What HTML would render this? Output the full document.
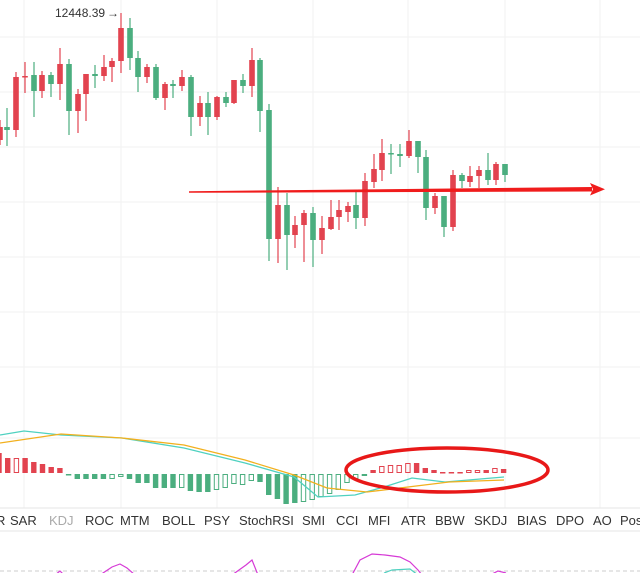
<!DOCTYPE html>
<html><head><meta charset="utf-8"><style>
html,body{margin:0;padding:0;background:#fff;width:640px;height:573px;overflow:hidden;font-family:"Liberation Sans",sans-serif}
</style></head><body>
<svg id="s" width="640" height="573" xmlns="http://www.w3.org/2000/svg" style="position:absolute;left:0;top:0">
<g stroke="#f2f2f2" stroke-width="1">
<line x1="0" y1="37" x2="640" y2="37"/><line x1="0" y1="92" x2="640" y2="92"/><line x1="0" y1="147" x2="640" y2="147"/><line x1="0" y1="202" x2="640" y2="202"/><line x1="0" y1="257" x2="640" y2="257"/><line x1="0" y1="312" x2="640" y2="312"/><line x1="0" y1="367" x2="640" y2="367"/><line x1="0" y1="438" x2="640" y2="438"/>
<line x1="24" y1="0" x2="24" y2="508"/><line x1="121" y1="0" x2="121" y2="508"/><line x1="217" y1="0" x2="217" y2="508"/><line x1="313" y1="0" x2="313" y2="508"/><line x1="408" y1="0" x2="408" y2="508"/><line x1="505" y1="0" x2="505" y2="508"/><line x1="600" y1="0" x2="600" y2="508"/>
</g>
<line x1="0" y1="508" x2="640" y2="508" stroke="#e6e6e6"/>
<line x1="0" y1="531" x2="640" y2="531" stroke="#e6e6e6"/>
<g id="candles"></g>
<g id="hist"></g>
<polyline fill="none" stroke="#4fd1c0" stroke-width="1.3" points="0,435 24,431 61,435 122,438 184,448 245,463 294,477 318,497 355,495 384,487 412,478 445,482 504,477"/>
<polyline fill="none" stroke="#f2b01e" stroke-width="1.3" points="0,443 61,434 122,438 184,445 245,460 294,475 327,488 367,492 408,487 449,482 504,480"/>
<text x="55" y="17" font-size="12" fill="#333">12448.39</text>
<text x="107" y="17" font-size="12" fill="#333">→</text>
<polygon points="189,191.2 592,187 592,191.5 189,192.8" fill="#f01c1c"/>
<polygon points="590,183 605,189.3 590,195.5 593,189.3" fill="#f01c1c"/>
<ellipse cx="447" cy="470" rx="101" ry="22" fill="none" stroke="#e81818" stroke-width="3.5"/>
<g font-size="13" fill="#333">
<text x="-4" y="525">R</text><text x="10" y="525">SAR</text><text x="49" y="525" fill="#aaa">KDJ</text><text x="85" y="525">ROC</text><text x="120" y="525">MTM</text><text x="162" y="525">BOLL</text><text x="204" y="525">PSY</text><text x="239" y="525">StochRSI</text><text x="302" y="525">SMI</text><text x="336" y="525">CCI</text><text x="368" y="525">MFI</text><text x="401" y="525">ATR</text><text x="435" y="525">BBW</text><text x="474" y="525">SKDJ</text><text x="517" y="525">BIAS</text><text x="556" y="525">DPO</text><text x="593" y="525">AO</text><text x="620" y="525">Pos</text>
</g>
<line x1="0" y1="571" x2="640" y2="571" stroke="#ccc" stroke-dasharray="4,3"/>
<g fill="none" stroke="#d63ad6" stroke-width="1.2">
<polyline points="100,575 112,567 120,564 127,568 135,575"/>
<polyline points="232,575 246,565 252,560 258,575"/>
<polyline points="352,575 360,560 372,554 385,555 400,557 410,562 418,570 422,575"/>
<polyline points="490,575 498,571 506,573"/>
<polyline points="55,575 60,571 64,575"/>
</g>
<polyline fill="none" stroke="#4fd1c0" stroke-width="1.2" points="384,573 392,570 410,569 418,575"/>
</svg>
<script>
var R="#e2434f",G="#4bae7f",NS="http://www.w3.org/2000/svg";
function el(p,t,a){var e=document.createElementNS(NS,t);for(var k in a)e.setAttribute(k,a[k]);p.appendChild(e);return e;}
var C=[[0,127,140,120,145,R],[7,127,130,108,146,G],[16,77,130,72,137,R],[25,76,77.5,62,93,R],[34,75,91,62,117,G],[42,75,91,71,98,R],[51,75,84,72,97,G],[60,64,84,48,100,R],[69,64,111,59,135,G],[78,94,111,89,133,R],[86,74,94,74,121,R],[95,74,76,65,88,G],[104,67,76,55,81,R],[112,61,67,58,82,R],[121,28,61,13,73,R],[130,28,58,18,70,G],[138,58,77,51,92,G],[147,67,77,64,83,R],[156,67,98,64,100,G],[165,84,98,82,110,R],[173,84,86,80,98,G],[182,77,86,70,91,R],[191,77,117,75,136,G],[200,103,117,96,126,R],[208,103,117,92,135,G],[217,97,117,96,120,R],[226,97,103,92,107,G],[234,80,103,80,104,R],[243,80,86,74,93,G],[252,60,86,48,97,R],[260,60,111,58,132,G],[269,110,239,104,261,G],[278,205,239,187,263,R],[287,205,235,193,270,G],[295,225,235,216,248,R],[304,213,225,210,262,R],[313,213,240,207,267,G],[322,228,240,216,254,R],[331,217,229,200,230,R],[339,210,217,200,230,R],[348,206,212,202,222,R],[356,205,218,192,229,G],[365,181,218,173,226,R],[374,169,182,154,188,R],[382,153,170,139,181,R],[391,153,154.5,144,174,G],[400,154,156,144,167,G],[409,141,156,130,158,R],[418,141,157,141,173,G],[426,157,208,150,220,G],[435,196,208,193,214,R],[444,196,227,196,237,G],[453,175,227,170,231,R],[462,175,181,173,188,G],[470,176,182,166,187,R],[479,170,176,166,188,R],[488,170,180,153,185,G],[496,164,180,162,185,R],[505,164,175,164,182,G]];
var g=document.getElementById("candles");
C.forEach(function(c){el(g,"line",{x1:c[0],x2:c[0],y1:c[3],y2:c[4],stroke:c[5],"stroke-width":1.2});el(g,"rect",{x:c[0]-2.8,y:c[1],width:5.6,height:Math.max(1.5,c[2]-c[1]),fill:c[5]});});
// histogram [top,bottom,color,hollow]
var H=[[453,473,R,0],[458,473,R,0],[458,473,R,1],[458,473,R,0],[462,473,R,0],[464,473,R,0],[467,473,R,0],[468,473,R,0],
[474,475.5,G,0],[474,479,G,0],[474,479,G,0],[474,479,G,0],[474,479,G,0],[474,479,G,1],[474,477,G,1],[474,479,G,0],[474,483,G,0],[474,483,G,0],[474,488,G,0],[474,488,G,0],[474,488,G,0],[474,488,G,1],[474,491,G,0],[474,492,G,0],[474,492,G,0],[474,490,G,1],[474,488,G,1],[474,484,G,1],[474,485,G,1],[474,481,G,1],
[474,482,G,0],[474,495,G,0],[474,499,G,0],[474,504,G,0],[474,503,G,0],[474,502,G,1],[474,500,G,1],[474,497,G,1],[474,494,G,1],[474,490,G,1],[474,483,G,1],[474,479,G,1],[474,476,G,1],
[470,473,R,0],[466,473,R,1],[465,473,R,1],[465,473,R,1],[463,473,R,1],[463,473,R,0],[468,473,R,0],[470,473,R,0],[472,473.5,R,0],[472,473.5,R,0],[472,473.5,R,0],[470,473,R,1],[470,473,R,1],[470,473,R,0],[468,473,R,1],[469,473,R,0]];
var h=document.getElementById("hist");
H.forEach(function(b,i){var x=8.7*i-1;
if(b[3])el(h,"rect",{x:x-2.2,y:b[0]+0.5,width:4.4,height:b[1]-b[0]-1,fill:"none",stroke:b[2],"stroke-width":1});
else el(h,"rect",{x:x-2.7,y:b[0],width:5.4,height:b[1]-b[0],fill:b[2]});});
</script>
</body></html>
